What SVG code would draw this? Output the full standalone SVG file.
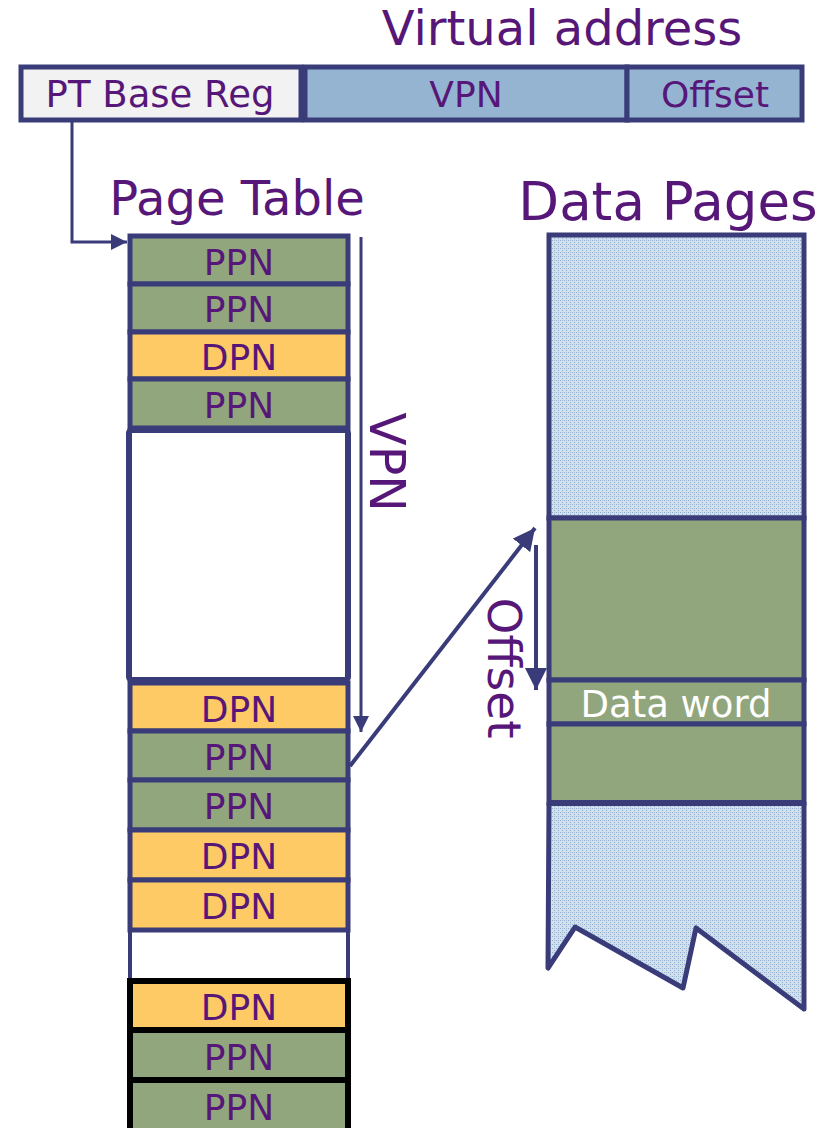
<svg xmlns="http://www.w3.org/2000/svg" width="834" height="1128" viewBox="0 0 834 1128">
<style>
.t{font-family:"DejaVu Sans",Verdana,sans-serif;fill:#561778}
.row{stroke:#393c78;stroke-width:5}
.blk{stroke:#000;stroke-width:6}
.g{fill:#92a67d}
.y{fill:#fdca65}
.ln{stroke:#393c78;fill:none}
.lbl{font-size:36px;text-anchor:middle}
</style>
<defs>
<pattern id="dots" width="4" height="4" patternUnits="userSpaceOnUse">
<rect width="4" height="4" fill="#d3e1ee"/>
<rect x="0" y="0" width="1" height="1" fill="#8eaccd"/>
<rect x="2" y="2" width="1" height="1" fill="#8eaccd"/>
<rect x="2" y="0" width="1" height="1" fill="#a9c0da"/>
</pattern>
<marker id="ah" viewBox="0 0 10 10" refX="10" refY="5" markerWidth="5.5" markerHeight="5.5" orient="auto" markerUnits="strokeWidth">
<path d="M0,0 L10,5 L0,10 z" fill="#393c78"/>
</marker>
</defs>
<rect width="834" height="1128" fill="#fff"/>
<text class="t" x="562" y="45" font-size="48" text-anchor="middle">Virtual address</text>
<g id="ptbasereg">
<rect x="21" y="67" width="280" height="53" fill="#f2f2f2" stroke="#393c78" stroke-width="5"/>
<text class="t" x="160" y="107" font-size="37" text-anchor="middle">PT Base Reg</text>
</g>
<g id="vpn">
<rect x="305" y="67" width="322" height="53" fill="#95b4d2" stroke="#393c78" stroke-width="5"/>
<text class="t" x="466" y="107" font-size="36" text-anchor="middle">VPN</text>
</g>
<g id="offset">
<rect x="627" y="67" width="175" height="53" fill="#95b4d2" stroke="#393c78" stroke-width="5"/>
<text class="t" x="715" y="107" font-size="36" text-anchor="middle">Offset</text>
</g>
<text class="t" x="237" y="215" font-size="48" text-anchor="middle">Page Table</text>
<text class="t" x="668" y="220" font-size="53" text-anchor="middle">Data Pages</text>
<g id="pagetable">
<g id="r1"><rect class="row g" x="130" y="236" width="218" height="48"/><text class="t lbl" x="239" y="275">PPN</text></g>
<g id="r2"><rect class="row g" x="130" y="284" width="218" height="48"/><text class="t lbl" x="239" y="322">PPN</text></g>
<g id="r3"><rect class="row y" x="130" y="332" width="218" height="47"/><text class="t lbl" x="239" y="370">DPN</text></g>
<g id="r4"><rect class="row g" x="130" y="379" width="218" height="49"/><text class="t lbl" x="239" y="418">PPN</text></g>
<g id="gap1"><rect x="129" y="430" width="219" height="250" rx="3" fill="#fff" stroke="#393c78" stroke-width="6"/></g>
<g id="r5"><rect class="row y" x="130" y="683" width="218" height="48"/><text class="t lbl" x="239" y="722">DPN</text></g>
<g id="r6"><rect class="row g" x="130" y="731" width="218" height="49"/><text class="t lbl" x="239" y="770">PPN</text></g>
<g id="r7"><rect class="row g" x="130" y="780" width="218" height="50"/><text class="t lbl" x="239" y="819">PPN</text></g>
<g id="r8"><rect class="row y" x="130" y="830" width="218" height="50"/><text class="t lbl" x="239" y="869">DPN</text></g>
<g id="r9"><rect class="row y" x="130" y="880" width="218" height="50"/><text class="t lbl" x="239" y="919">DPN</text></g>
<g id="gap2"><path d="M130,930 V981 M348,930 V981" stroke="#393c78" stroke-width="4" fill="none"/></g>
<g id="r10"><rect class="blk y" x="130" y="981" width="218" height="49"/><text class="t lbl" x="239" y="1020">DPN</text></g>
<g id="r11"><rect class="blk g" x="130" y="1030" width="218" height="50"/><text class="t lbl" x="239" y="1070">PPN</text></g>
<g id="r12"><rect class="blk g" x="130" y="1080" width="218" height="52"/><text class="t lbl" x="239" y="1120">PPN</text></g>
</g>
<g id="datapages">
<rect x="549" y="235" width="255" height="283" fill="url(#dots)" stroke="#393c78" stroke-width="5"/>
<rect x="549" y="518" width="255" height="162" fill="#92a67d" stroke="#393c78" stroke-width="5"/>
<g id="dataword">
<rect x="549" y="680" width="255" height="44" fill="#92a67d" stroke="#393c78" stroke-width="5"/>
<text x="676" y="717" font-size="37" text-anchor="middle" fill="#fff" font-family="DejaVu Sans,Verdana,sans-serif">Data word</text>
</g>
<rect x="549" y="724" width="255" height="79" fill="#92a67d" stroke="#393c78" stroke-width="5"/>
<path d="M549,803 H804 V1009 L696,928 L683,988 L575,927 L548,968 Z" fill="url(#dots)" stroke="#393c78" stroke-width="5" stroke-linejoin="round"/>
<line x1="549" y1="803" x2="804" y2="803" stroke="#393c78" stroke-width="6"/>
</g>
<g id="connectors">
<path class="ln" d="M72,120 V242 H127" stroke-width="3" marker-end="url(#ah)"/>
<line class="ln" x1="361" y1="237" x2="361" y2="732" stroke-width="3" marker-end="url(#ah)"/>
<line class="ln" x1="350" y1="766" x2="535" y2="528" stroke-width="4" marker-end="url(#ah)"/>
<line class="ln" x1="536" y1="545" x2="536" y2="690" stroke-width="4" marker-end="url(#ah)"/>
</g>
<text class="t" font-size="49" text-anchor="middle" transform="translate(370,462) rotate(90)">VPN</text>
<text class="t" font-size="47" text-anchor="middle" transform="translate(488,668) rotate(90)">Offset</text>
</svg>
